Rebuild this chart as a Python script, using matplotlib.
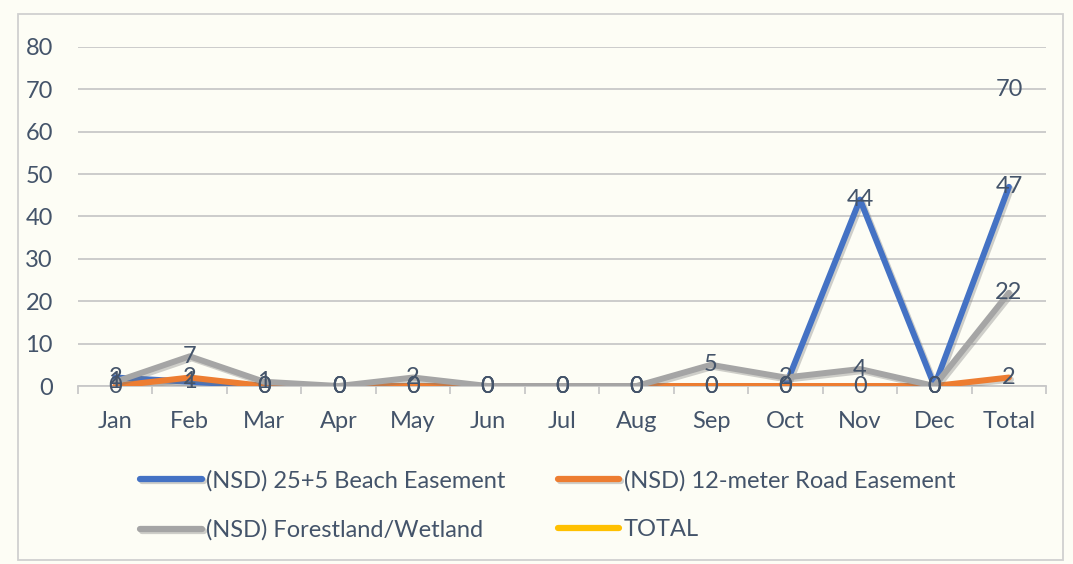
import matplotlib.pyplot as plt
import matplotlib.patheffects as pe
from matplotlib.patches import Rectangle
from matplotlib.ticker import FixedLocator

months = ["Jan", "Feb", "Mar", "Apr", "May", "Jun", "Jul", "Aug",
          "Sep", "Oct", "Nov", "Dec", "Total"]
beach = [2, 1, 0, 0, 0, 0, 0, 0, 0, 0, 44, 0, 47]
road = [0, 2, 0, 0, 0, 0, 0, 0, 0, 0, 0, 0, 2]
forest = [1, 7, 1, 0, 2, 0, 0, 0, 5, 2, 4, 0, 22]
total_value = 70

series = [
    ("(NSD) 25+5 Beach Easement", beach, "#4472C4"),
    ("(NSD) 12-meter Road Easement", road, "#ED7D31"),
    ("(NSD) Forestland/Wetland", forest, "#A5A5A5"),
]

BG = "#FDFDF5"
TXT = "#44546A"
FS = 17
plt.rcParams["font.family"] = ["Lato", "DejaVu Sans"]

fig = plt.figure(figsize=(10.73, 5.64), dpi=100, facecolor=BG)
ax = fig.add_axes([0.0727, 0.3156, 0.9023, 0.6011], facecolor=BG)

x = list(range(len(months)))
shadow = [pe.SimpleLineShadow(offset=(1.5, -1.5), shadow_color="#777777", alpha=0.35),
          pe.Normal()]
handles = []
for name, vals, col in series:
    h, = ax.plot(x, vals, color=col, lw=4.3, solid_capstyle="round",
                 solid_joinstyle="round", label=name, path_effects=shadow, zorder=3)
    handles.append(h)
# TOTAL series only has the total point, so no visible line
h_total, = ax.plot([x[-1]], [total_value], color="#FFC000", lw=4.3, label="TOTAL")
handles.append(h_total)

for name, vals, col in series:
    for xi, v in zip(x, vals):
        ax.text(xi, v, str(v), ha="center", va="center", fontsize=FS,
                color=TXT, zorder=5)
ax.text(x[-1], total_value, str(total_value), ha="center", va="center",
        fontsize=FS, color=TXT, zorder=5)

ax.set_xlim(-0.5, len(months) - 0.5)
ax.set_ylim(0, 80)
ax.set_yticks(range(0, 81, 10))
ax.grid(axis="y", color="#C8C8C8", lw=1.3)
ax.set_axisbelow(True)
ax.set_xticks(x)
ax.set_xticklabels(months)
ax.xaxis.set_minor_locator(FixedLocator([i - 0.5 for i in range(len(months) + 1)]))
ax.tick_params(axis="x", which="major", length=0, pad=18, labelsize=FS, labelcolor=TXT)
ax.tick_params(axis="x", which="minor", length=6, color="#C8C8C8", width=1.3)
ax.tick_params(axis="y", length=0, pad=18, labelsize=FS, labelcolor=TXT)
for s in ["top", "right", "left"]:
    ax.spines[s].set_visible(False)
ax.spines["bottom"].set_color("#C8C8C8")
ax.spines["bottom"].set_linewidth(1.3)

# reorder so the legend reads row by row like the original
order = [0, 2, 1, 3]
leg = fig.legend([handles[i] for i in order],
                 [handles[i].get_label() for i in order],
                 loc="upper left", bbox_to_anchor=(0.111, 0.205), ncol=2,
                 frameon=False, fontsize=FS, handlelength=2.6, handletextpad=0.2,
                 columnspacing=2.2, labelspacing=1.2, labelcolor=TXT)
for line in leg.get_lines():
    line.set_linewidth(4.5)
    line.set_solid_capstyle("round")

fig.patches.append(Rectangle((18 / 1073, 4 / 564), 1045 / 1073, 546 / 564,
                             transform=fig.transFigure, fill=False,
                             edgecolor="#D0D0D0", lw=1.3))

fig.savefig("out.png", dpi=100, facecolor=BG)
